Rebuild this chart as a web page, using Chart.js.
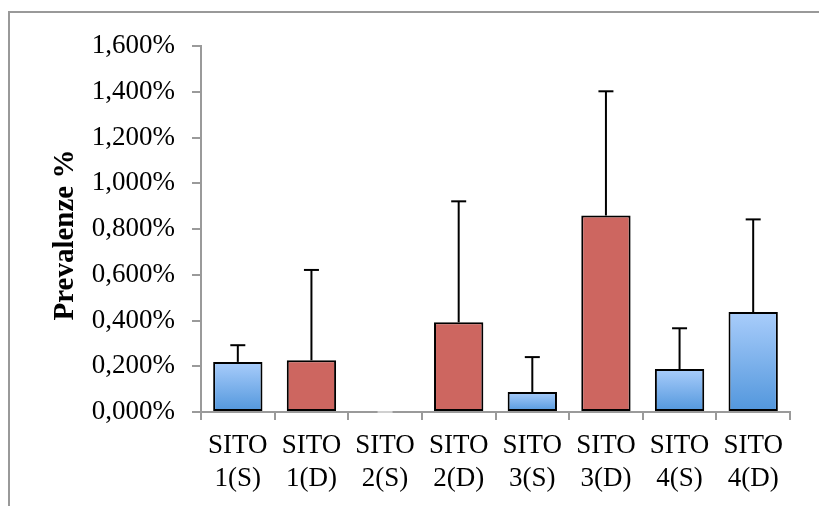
<!DOCTYPE html>
<html>
<head>
<meta charset="utf-8">
<title>Prevalenze %</title>
<script src="https://cdn.jsdelivr.net/npm/chart.js@4"></script>
<style>
  html, body { margin: 0; padding: 0; background: #fff; }
  #wrap { position: relative; width: 819px; height: 506px; }
</style>
</head>
<body>
<div id="wrap"><canvas id="prevChart" width="819" height="506"></canvas></div>
<script>
// Prevalence per site, surface (S) vs deep (D), with upper error bars

const categories = [
  ['SITO', '1(S)'], ['SITO', '1(D)'], ['SITO', '2(S)'], ['SITO', '2(D)'],
  ['SITO', '3(S)'], ['SITO', '3(D)'], ['SITO', '4(S)'], ['SITO', '4(D)']
];
const prevalence = [0.219, 0.226, 0, 0.392, 0.087, 0.859, 0.188, 0.437];
const errorUp = [0.073, 0.395, 0, 0.529, 0.153, 0.543, 0.178, 0.405];
const barKind = ['blue', 'red', 'blue', 'red', 'blue', 'red', 'blue', 'blue'];
const yTicks = [0, 0.2, 0.4, 0.6, 0.8, 1.0, 1.2, 1.4, 1.6];
const yTitle = 'Prevalenze %';

const FONT = "'Liberation Serif', 'DejaVu Serif', serif";
const AXIS_GREY = '#9a9a9a';

// Format tick values like "1,600%"
function formatPct(v) {
  return v.toFixed(3).replace('.', ',') + '%';
}

// Blue bars get their own vertical gradient, red ones are flat
function barFill(context) {
  const i = context.dataIndex;
  if (barKind[i] === 'red') return '#cd6660';
  const chart = context.chart;
  const y = chart.scales.y;
  if (!y || !chart.chartArea) return '#7fb0ea';
  const top = y.getPixelForValue(prevalence[i]);
  const bottom = y.getPixelForValue(0);
  if (bottom - top < 1) return '#7fb0ea';
  const g = chart.ctx.createLinearGradient(0, top, 0, bottom);
  g.addColorStop(0, '#a9cdfb');
  g.addColorStop(1, '#5196dc');
  return g;
}

// Frame around the chart (only top and left edges are visible)
const framePlugin = {
  id: 'frame',
  beforeDraw(chart) {
    const ctx = chart.ctx;
    ctx.save();
    ctx.strokeStyle = '#999999';
    ctx.lineWidth = 2;
    ctx.beginPath();
    ctx.moveTo(9, 506);
    ctx.lineTo(9, 12);
    ctx.lineTo(819, 12);
    ctx.stroke();
    ctx.restore();
  }
};

// Rotated y axis title, sitting a bit below the plot's middle like the original
const yTitlePlugin = {
  id: 'yTitle',
  afterDraw(chart) {
    const ctx = chart.ctx;
    const area = chart.chartArea;
    ctx.save();
    ctx.translate(66, (area.top + area.bottom) / 2 + 6);
    ctx.rotate(-Math.PI / 2);
    ctx.font = 'bold 29px ' + FONT;
    ctx.fillStyle = '#000';
    ctx.textAlign = 'center';
    ctx.textBaseline = 'middle';
    ctx.fillText(yTitle, 0, 0);
    ctx.restore();
  }
};

// Upper error bars with a cap
const errorBarPlugin = {
  id: 'errorBars',
  afterDatasetsDraw(chart) {
    const ctx = chart.ctx;
    const meta = chart.getDatasetMeta(0);
    const y = chart.scales.y;
    ctx.save();
    ctx.lineWidth = 2;
    meta.data.forEach((bar, i) => {
      const x = bar.x;
      const yTop = y.getPixelForValue(prevalence[i] + errorUp[i]);
      const yBase = y.getPixelForValue(prevalence[i]);
      ctx.strokeStyle = errorUp[i] > 0 ? '#000' : '#d0d0d0';
      if (errorUp[i] > 0) {
        ctx.beginPath();
        ctx.moveTo(x, yBase);
        ctx.lineTo(x, yTop);
        ctx.stroke();
      }
      ctx.beginPath();
      ctx.moveTo(x - 7.5, yTop);
      ctx.lineTo(x + 7.5, yTop);
      ctx.stroke();
    });
    ctx.restore();
  }
};

const ctx = document.getElementById('prevChart');

new Chart(ctx, {
  type: 'bar',
  data: {
    labels: categories,
    datasets: [{
      label: yTitle,
      data: prevalence,
      backgroundColor: barFill,
      borderColor: '#000',
      borderWidth: (c) => (prevalence[c.dataIndex] > 0 ? 2 : 0),
      borderSkipped: false,
      categoryPercentage: 1,
      barPercentage: 0.67
    }]
  },
  options: {
    responsive: false,
    animation: false,
    devicePixelRatio: 1,
    layout: {
      padding: { left: 0, right: 29, top: 46, bottom: 0 }
    },
    plugins: {
      legend: { display: false },
      tooltip: { enabled: false }
    },
    scales: {
      x: {
        grid: {
          offset: true,
          drawOnChartArea: false,
          color: AXIS_GREY,
          lineWidth: 2,
          tickLength: 8
        },
        border: { color: AXIS_GREY, width: 2 },
        ticks: {
          color: '#000',
          padding: 9,
          maxRotation: 0,
          autoSkip: false,
          font: { family: FONT, size: 27, lineHeight: 1.22 }
        },
        afterFit(scale) { scale.height = 94; }
      },
      y: {
        min: 0,
        max: 1.6,
        afterBuildTicks(scale) {
          scale.ticks = yTicks.map(v => ({ value: v }));
        },
        grid: {
          drawOnChartArea: false,
          color: AXIS_GREY,
          lineWidth: 2,
          tickLength: 9
        },
        border: { color: AXIS_GREY, width: 2 },
        ticks: {
          color: '#000',
          padding: 17,
          font: { family: FONT, size: 27 },
          callback: (v) => formatPct(v)
        },
        afterFit(scale) { scale.width = 201; }
      }
    }
  },
  plugins: [framePlugin, errorBarPlugin, yTitlePlugin]
});
</script>
</body>
</html>
